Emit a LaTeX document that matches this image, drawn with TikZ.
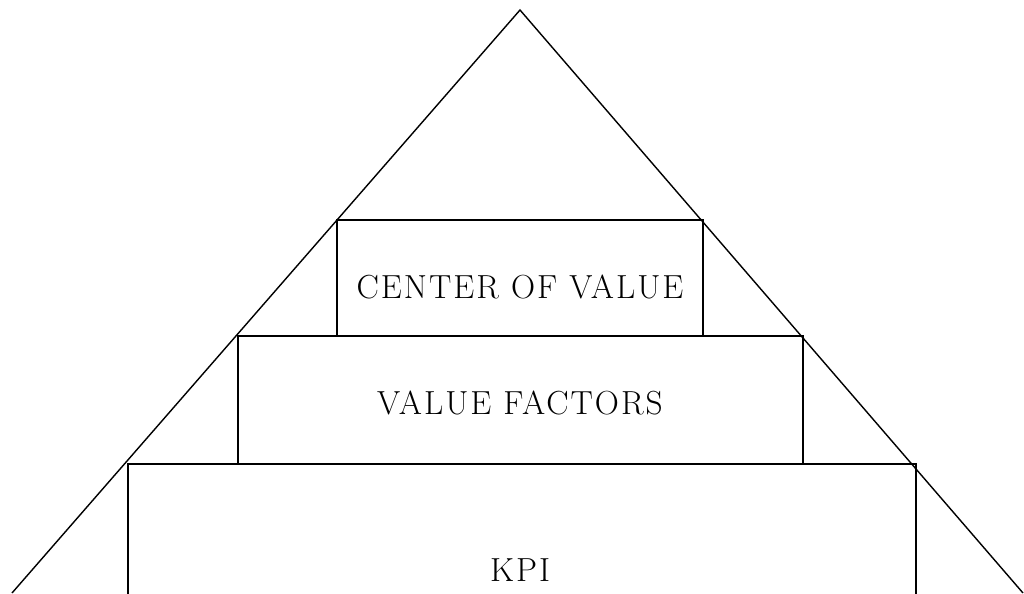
\documentclass[tikz,border=0pt]{standalone}
\usepackage{fontspec}
\newfontfamily\captionfont{Latin Modern Roman}[LetterSpace=6]
\begin{document}
\begin{tikzpicture}[x=0.02cm,y=-0.02cm,
  level/.style={line width=0.8pt},
  caption/.style={font=\captionfont\fontsize{19}{22}\selectfont, inner sep=0pt}]
  \useasboundingbox (0,0) rectangle (1024,593);
  \clip (0,0) rectangle (1024,593);

  % pyramid
  \coordinate (apex) at (520,10);
  \coordinate (base left) at (12,593);
  \coordinate (base right) at (1023,593);
  \draw[level] (base left) -- (apex) -- (base right);

  % levels
  \draw[level] (337,220) rectangle (703,336);
  \draw[level] (238,336) rectangle (803,464);
  \draw[level] (128,464) rectangle (916,640);

  % labels
  \node[caption] (center) at (520,287) {CENTER OF VALUE};
  \node[caption] (factors) at (520,403) {VALUE FACTORS};
  \node[caption] (kpi) at (520,570) {KPI};
\end{tikzpicture}
\end{document}
